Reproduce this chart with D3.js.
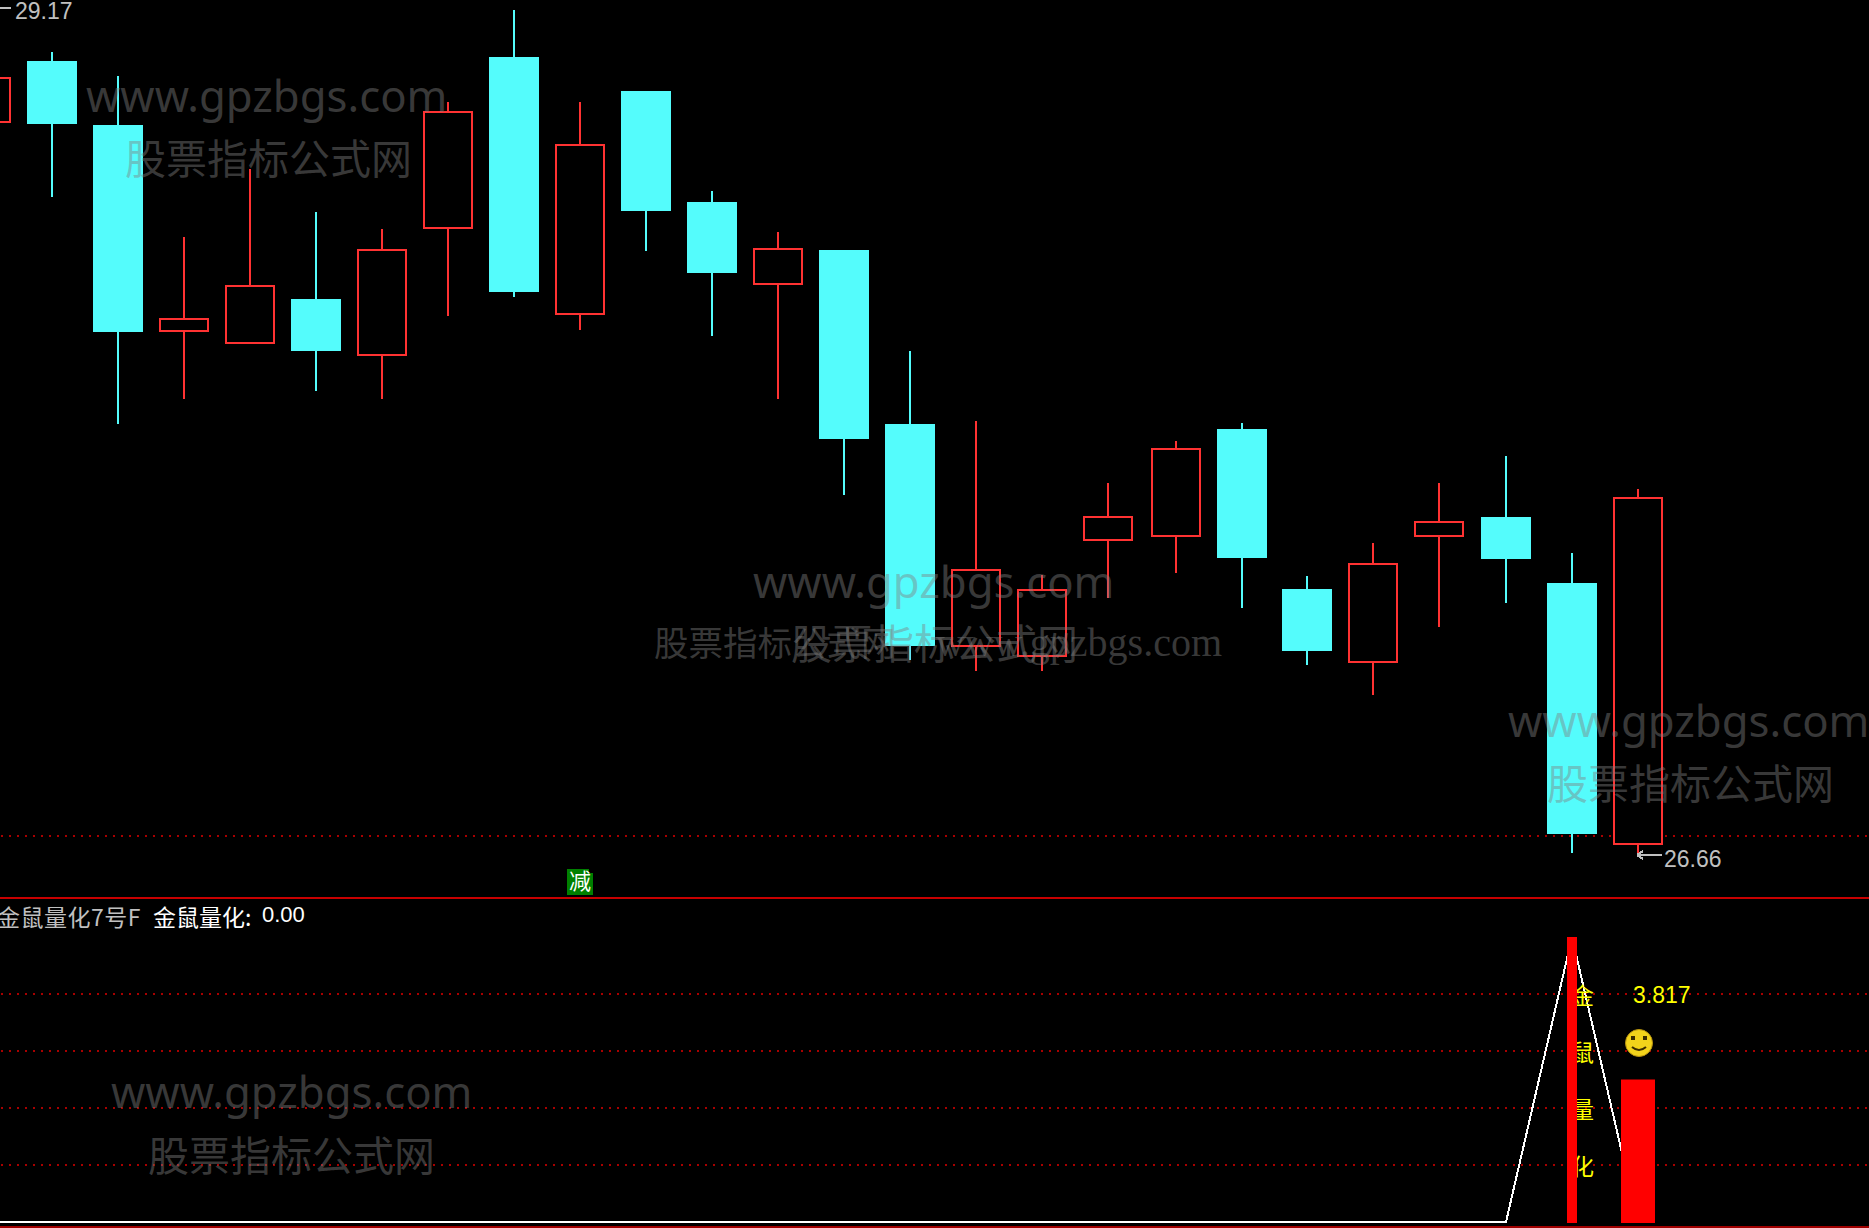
<!DOCTYPE html>
<html><head><meta charset="utf-8">
<script src="https://cdn.jsdelivr.net/npm/d3@7/dist/d3.min.js"></script>
<style>html,body{margin:0;padding:0;background:#000;overflow:hidden}svg{display:block}</style>
</head><body><div id="c"></div>
<script>
const highs =[29.022,29.044,28.973,28.494,28.696,28.568,28.518,28.895,29.171,28.895,28.930,28.632,28.508,28.455,28.156,27.947,27.489,27.762,27.887,27.940,27.486,27.582,27.762,27.841,27.553,27.745];
const tops  =[28.969,29.019,28.827,28.249,28.348,28.309,28.455,28.866,29.029,28.767,28.930,28.597,28.458,28.455,27.936,27.503,27.443,27.660,27.862,27.922,27.447,27.521,27.645,27.660,27.464,27.716];
const bots  =[28.838,28.831,28.210,28.213,28.178,28.156,28.142,28.522,28.330,28.266,28.572,28.387,28.355,27.894,27.276,27.276,27.248,27.592,27.603,27.539,27.262,27.230,27.603,27.535,26.716,26.687];
const lows  =[28.809,28.614,27.936,28.011,28.178,28.036,28.011,28.259,28.316,28.217,28.451,28.199,28.011,27.727,27.234,27.202,27.202,27.418,27.493,27.390,27.219,27.131,27.333,27.404,26.659,26.659];
const rising=[1,0,0,1,1,0,1,1,0,1,0,0,1,0,0,1,1,1,1,0,0,1,1,0,0,1];
const gridPrice=[26.70];
const gridLower=[1,2,3,4];
const lineIdx=[-2,23,24,25];
const lineVal=[0,0,5,0];
const barIdx=[24,25];
const barVal=[5,2.5];
const vertLabels=["金","鼠","量","化"];
const vertLevels=[4,3,2,1];
const maxLabel="29.17",minLabel="26.66",lastValue="3.817";

const W=1869,H=1228;
const svg=d3.select("#c").append("svg").attr("width",W).attr("height",H).style("background","#000");
const x=d3.scaleLinear().domain([1,7,17,18,19,20,25]).range([52,448,1108,1176,1242,1307,1638]).interpolate(d3.interpolateRound);
const y=d3.scaleLinear().domain([26.66,29.17]).range([853,10]).interpolate(d3.interpolateRound);
const yL=d3.scaleLinear().domain([0,4]).range([1222,994]);
const RED="#ff3232",CY="#54fcfc",HW=25;

const grid=svg.append("g").attr("stroke","#a80000").attr("stroke-width",2).attr("stroke-dasharray","2 6").attr("shape-rendering","crispEdges");
gridPrice.forEach(()=>grid.append("line").attr("x1",1).attr("x2",W).attr("y1",836).attr("y2",836));
gridLower.forEach(v=>grid.append("line").attr("x1",1).attr("x2",W).attr("y1",yL(v)).attr("y2",yL(v)));

svg.append("rect").attr("x",0).attr("y",897).attr("width",W).attr("height",2).attr("fill","#c80000");
svg.append("rect").attr("x",0).attr("y",1226).attr("width",W).attr("height",2).attr("fill","#a00000");

const g=svg.append("g").attr("shape-rendering","crispEdges");
highs.forEach((_,i)=>{
  const cx=x(i),up=rising[i],col=up?RED:CY;
  g.append("line").attr("x1",cx).attr("x2",cx).attr("y1",y(highs[i])).attr("y2",y(lows[i])).attr("stroke",col).attr("stroke-width",2);
  const r=g.append("rect").attr("y",y(tops[i])).attr("height",y(bots[i])-y(tops[i]));
  if(up) r.attr("x",cx-HW+1).attr("width",2*HW-2).attr("fill","#000").attr("stroke",col).attr("stroke-width",2);
  else r.attr("x",cx-HW).attr("width",2*HW).attr("fill",col);
});

const txt=(s,xx,yy,fill,size,fam,anchor)=>svg.append("text").attr("x",xx).attr("y",yy).attr("fill",fill)
  .attr("font-size",size).attr("font-family",fam).attr("text-anchor",anchor||"start").text(s);
const SANS="'Noto Sans CJK SC'",NUM="'Liberation Sans'",GREY="#c0c0c0";

// lower pane
const line=d3.line().x((d,i)=>x(lineIdx[i])).y(d=>yL(d));
svg.append("path").attr("d",line(lineVal)).attr("fill","none").attr("stroke","#fff").attr("stroke-width",2).attr("shape-rendering","crispEdges");
vertLabels.forEach((t,i)=>txt(t,1594,yL(vertLevels[i])+10,"#ffff00",23,SANS,"end"));
barIdx.forEach((b,i)=>{
  const w=i==0?10:34;
  svg.append("rect").attr("x",x(b)-w/2).attr("y",yL(barVal[i])).attr("width",w).attr("height",yL(0)-yL(barVal[i])+1).attr("fill","#ff0000");
});
txt(lastValue,1633,1003,"#ffff00",23,NUM);

// smiley
const sm=svg.append("g").attr("transform","translate(1639,1043)");
sm.append("circle").attr("r",13.5).attr("fill","#f2d31b").attr("stroke","#b8930f").attr("stroke-width",1);
sm.append("rect").attr("x",-8).attr("y",-7).attr("width",4).attr("height",4).attr("fill","#3a2c00");
sm.append("rect").attr("x",4).attr("y",-7).attr("width",4).attr("height",4).attr("fill","#3a2c00");
sm.append("path").attr("d","M-7 4Q0 10 7 4").attr("fill","none").attr("stroke","#3a2c00").attr("stroke-width",2);

// title
txt("金鼠量化7号F",-3,926,GREY,23,SANS).attr("letter-spacing",0.5);
txt("金鼠量化:",153,926,"#ffffff",23,SANS);
txt("0.00",262,922,"#ffffff",22,NUM);

// price labels
const arrow=(x0,yy)=>svg.append("path").attr("d",`M${x0} ${yy}H${x0+25}M${x0} ${yy}l6 -4M${x0} ${yy}l6 4`)
  .attr("fill","none").attr("stroke",GREY).attr("stroke-width",2).attr("shape-rendering","crispEdges");
arrow(1637,855); txt(minLabel,1664,867,GREY,23,NUM);
arrow(-14,8);    txt(maxLabel,15,19,GREY,23,NUM);

// signal box
svg.append("path").attr("d","M567 869H589V873H593V895H567Z").attr("fill","#008000");
txt("减",580,889,"#ffffff",22,SANS,"middle");

// watermarks
const W1="www.gpzbgs.com",W2="股票指标公式网",WC="rgba(128,128,128,0.44)";
[[86,112,125,174],[753,598,791,659],[1508,737,1547,799],[111,1108,148,1171]].forEach(d=>{
  txt(W1,d[0],d[1],WC,43.7,"'Noto Sans'");
  txt(W2,d[2],d[3],WC,41,SANS);
});
txt(W2,654,656,WC,34.5,SANS);
txt(W1,1222,656,WC,40,"'Liberation Serif'","end");
</script></body></html>
